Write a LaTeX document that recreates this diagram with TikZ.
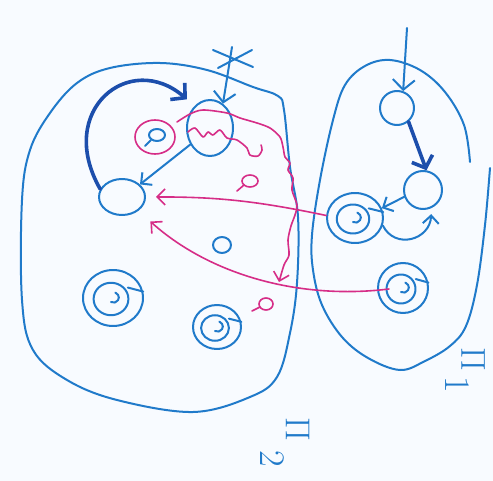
\documentclass[tikz,border=0pt]{standalone}
\usetikzlibrary{arrows.meta,calc,shapes.geometric}
\definecolor{penblue}{RGB}{32,122,202}
\definecolor{darkpen}{RGB}{28,78,172}
\definecolor{penpink}{RGB}{214,45,135}
\definecolor{paper}{RGB}{248,251,255}
\newcommand\spin[3]{%
  \draw[pen] ($(#1.center)+(-2,1)$) ellipse [x radius={0.29*#2pt}, y radius={0.29*#3pt}];
  \draw[pen] ($(#1.center)+(-2,4)$) arc[start angle=-120, end angle=70, radius=2.6pt];
  \draw[pen] ($(#1.center)!0.6!(#1.35)$) -- (#1.12);
}
\begin{document}
\begin{tikzpicture}[x=0.5pt,y=-0.5pt,
  pen/.style={draw=penblue,line width=1pt,line cap=round,line join=round},
  thickpen/.style={draw=darkpen,line width=1.8pt,line cap=round,line join=round},
  pinkpen/.style={draw=penpink,line width=0.8pt,line cap=round,line join=round},
  stnode/.style={ellipse,pen,inner sep=0pt},
  arr/.style={-{Straight Barb[length=4pt,width=8pt]}},
  bigarr/.style={-{Straight Barb[length=5pt,width=11pt]}},
  label/.style={text=penblue,font=\fontsize{18}{21}\selectfont,rotate=-90,inner sep=0pt}
]
\fill[paper] (0,0) rectangle (493,481);
\useasboundingbox (0,0) rectangle (493,481);

% left blob
\draw[pen] plot[smooth cycle, tension=0.6] coordinates {(22,200) (30,150) (50,113) (77,83) (110,68) (160,63) (207,70) (253,87) (278,96) (284,110) (290,167) (298,217) (297,283) (290,333) (277,377) (250,397) (193,412) (117,400) (67,380) (33,350) (22,300)};
% right blob (open at top right)
\draw[pen] plot[smooth, tension=0.6] coordinates {(470,162) (464,125) (445,92) (420,70) (390,60) (365,66) (345,85) (333,120) (320,180) (312,235) (313,270) (322,305) (342,337) (368,358) (400,370) (425,361) (450,346) (466,326) (477,285) (485,225) (490,168)};

% nodes
\node[stnode,minimum width=23pt,minimum height=28pt] (A) at (210,128) {};
\node[ellipse,pinkpen,inner sep=0pt,minimum width=20pt,minimum height=17pt] (B) at (155,137) {};
\node[stnode,minimum width=23pt,minimum height=18pt] (C) at (122,197) {};
\node[stnode,minimum width=9pt,minimum height=8pt] (o) at (222,245) {};
\node[stnode,minimum width=30pt,minimum height=28pt] (S1) at (113,298) {};
\node[stnode,minimum width=24pt,minimum height=22pt] (S2) at (217,327) {};
\node[stnode,minimum width=17pt,minimum height=17pt] (D) at (397,108) {};
\node[stnode,minimum width=19pt,minimum height=19pt] (E) at (423,190) {};
\node[stnode,minimum width=28pt,minimum height=25pt] (S3) at (355,218) {};
\node[stnode,minimum width=25pt,minimum height=25pt] (S4) at (403,288) {};
\spin{S1}{30}{28}
\spin{S2}{24}{22}
\spin{S3}{28}{25}
\spin{S4}{25}{25}

% small marks
\draw[pen] (157,135) ellipse [x radius=4pt, y radius=3pt];
\draw[pen] (151,140) -- (145,146);
\draw[pinkpen] (250,181) ellipse [x radius=4pt, y radius=3pt];
\draw[pinkpen] (244,185) -- (237,191);
\draw[pinkpen] (266,304) ellipse [x radius=3.5pt, y radius=3pt];
\draw[pinkpen] (260,307) -- (252,311);

% asterisk
\coordinate (star) at (232,47);
\draw[pen] (213,50) -- (253,67);
\draw[pen] (218,68) -- (252,50);
\draw[pen,bigarr] (star) -- (A.62);

% blue arrows, left
\draw[thickpen,bigarr,shorten >=5pt] (C.160) .. controls (55,110) and (130,50) .. (A.125);
\draw[pen,arr] (A.220) -- (C.35);

% blue arrows, right
\coordinate (topin) at (407,28);
\draw[pen,bigarr] (topin) -- (D.70);
\draw[thickpen,bigarr] (D.-50) -- (E.80);
\draw[pen,arr] (E.200) -- (S3.20);
\draw[pen,arr,shorten >=3pt] (S3.-15) .. controls (395,250) and (430,240) .. (E.-65);

% pink arrows
\draw[pinkpen,arr,shorten >=5pt] (S3.175) to[bend right=6] (C.east);
\coordinate (p4) at (389,289);
\draw[pinkpen,arr,shorten >=8pt] (p4) .. controls (300,300) and (210,275) .. (C.-40);
\draw[pinkpen,arr] plot[smooth,tension=0.5] coordinates {(177,122) (190,114) (203,110) (227,113) (240,118) (257,123) (270,128) (280,137) (283,147) (285,157) (290,163) (288,170) (293,178) (292,190) (297,205) (295,215) (291,226) (288,240) (289,255) (284,265) (279,282)};
\draw[pinkpen] plot[smooth,tension=0.5] coordinates {(188,132) (195,128) (203,137) (208,132) (213,135) (220,130) (227,138) (237,140) (247,148) (250,155) (258,156) (262,150) (261,145)};

% labels
\node[label] (L1) at (465,370) {$\Pi$\hspace{0.15em}\raisebox{-0.45em}{1}};
\node[label] (L2) at (285,442) {$\Pi$\hspace{0.25em}\raisebox{-0.7em}{2}};
\end{tikzpicture}
\end{document}
